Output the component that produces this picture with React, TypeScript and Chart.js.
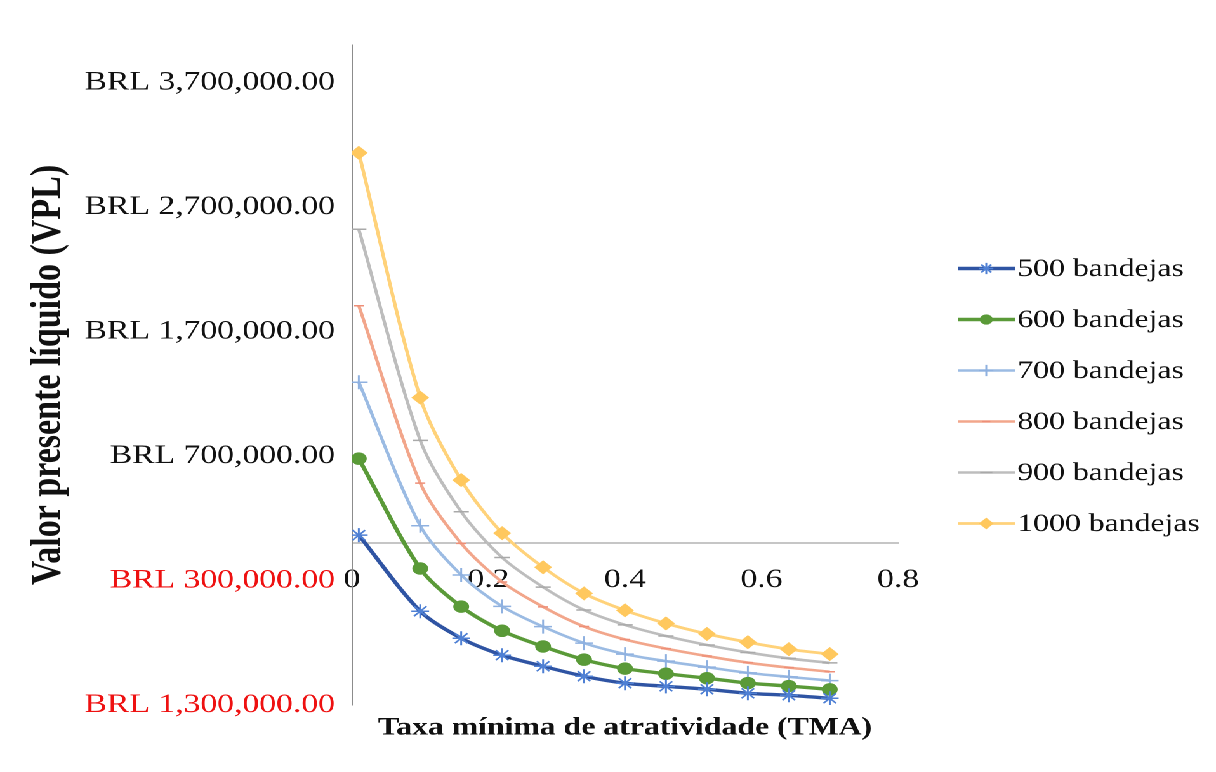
import React, { useEffect, useRef } from 'react';
import { Chart, registerables } from 'chart.js';
import { drawPoint } from 'chart.js/helpers';

Chart.register(...registerables);

// ---- data ----
const tmaValues = [0.01, 0.1, 0.16, 0.22, 0.28, 0.34, 0.4, 0.46, 0.52, 0.58, 0.64, 0.7];
const vpl500 = [64000, -547000, -764000, -900000, -989000, -1069000, -1125000, -1150000, -1174000, -1206000, -1222000, -1246000];
const vpl600 = [678000, -204000, -510000, -704000, -830000, -936000, -1008000, -1049000, -1085000, -1124000, -1148000, -1175000];
const vpl700 = [1292000, 139000, -256000, -508000, -671000, -803000, -891000, -948000, -996000, -1042000, -1074000, -1104000];
const vpl800 = [1906000, 482000, -2000, -312000, -512000, -670000, -774000, -847000, -907000, -960000, -1000000, -1033000];
const vpl900 = [2520000, 825000, 252000, -116000, -353000, -537000, -657000, -746000, -818000, -878000, -926000, -962000];
const vpl1000 = [3134000, 1168000, 506000, 80000, -194000, -404000, -540000, -645000, -729000, -796000, -852000, -891000];
const seriesLabels = ['500 bandejas', '600 bandejas', '700 bandejas', '800 bandejas', '900 bandejas', '1000 bandejas'];
const yTickValues = [-1300000, -300000, 700000, 1700000, 2700000, 3700000];
const xTickValues = [0, 0.2, 0.4, 0.6, 0.8];
const xTitle = 'Taxa mínima de atratividade (TMA)';
const yTitle = 'Valor presente líquido (VPL)';

// ---- styles ----
const SCALE_X = 1216 / 958;
const W = 958;
const H = 772;
const FONT = '"Liberation Serif", "Times New Roman", serif';
const lineColors = ['#2f54a3', '#5a9a38', '#9bbbe3', '#f2a68b', '#bdbdbd', '#ffd27a'];
const markerColors = ['#4f80d4', '#5a9a38', '#8fb1e0', '#ee8f78', '#a9a9a9', '#ffc85e'];
const markerStyles = ['star', 'circle', 'cross', 'line', 'line', 'rectRot'];
const markerRadii = [7, 5.5, 7, 4, 6, 6];
const lineWidths = [3.4, 3.4, 2.6, 2.6, 2.6, 2.8];

const allSeries = [vpl500, vpl600, vpl700, vpl800, vpl900, vpl1000];

const legendPlugin = {
  id: 'excelLegend',
  afterDraw(chart: any) {
    const { ctx, chartArea } = chart;
    const ds = chart.data.datasets;
    const x0 = chartArea.right + 47;
    const lineLen = 45;
    const spacing = 51;
    const cy = 396;
    ctx.save();
    ds.forEach((d: any, i: number) => {
      const y = cy + (i - (ds.length - 1) / 2) * spacing;
      ctx.strokeStyle = d.borderColor;
      ctx.lineWidth = d.borderWidth;
      ctx.beginPath();
      ctx.moveTo(x0, y);
      ctx.lineTo(x0 + lineLen, y);
      ctx.stroke();
      ctx.fillStyle = d.pointBackgroundColor;
      ctx.strokeStyle = d.pointBorderColor;
      ctx.lineWidth = d.pointBorderWidth;
      drawPoint(ctx, { pointStyle: d.pointStyle, rotation: 0, radius: d.pointRadius * 0.8, borderWidth: d.pointBorderWidth } as any, x0 + lineLen / 2, y);
      ctx.fillStyle = '#111';
      ctx.font = `25px ${FONT}`;
      ctx.textAlign = 'left';
      ctx.textBaseline = 'middle';
      ctx.fillText(d.label, x0 + lineLen + 2, y + 1);
    });
    ctx.restore();
  },
};

export default function App() {
  const ref = useRef<HTMLCanvasElement | null>(null);
  useEffect(() => {
    if (!ref.current) return;
    const datasets = allSeries.map((vals, i) => ({
      label: seriesLabels[i],
      data: vals.map((v, j) => ({ x: tmaValues[j], y: v })),
      showLine: true,
      borderColor: lineColors[i],
      backgroundColor: lineColors[i],
      borderWidth: lineWidths[i],
      tension: 0.3,
      pointStyle: markerStyles[i],
      pointRadius: markerRadii[i],
      pointBackgroundColor: markerColors[i],
      pointBorderColor: markerColors[i],
      pointBorderWidth: 1.5,
    }));
    const chart = new Chart(ref.current, {
      type: 'scatter',
      data: { datasets },
      plugins: [legendPlugin],
      options: {
        animation: false,
        responsive: false,
        devicePixelRatio: 2,
        layout: { padding: { top: 45, right: 250.5, left: 0, bottom: 0 } },
        font: { family: FONT },
        plugins: {
          legend: { display: false },
          tooltip: { enabled: false },
          title: {
            display: true,
            text: xTitle,
            position: 'bottom',
            fullSize: false,
            color: '#111',
            font: { family: FONT, size: 25, weight: 'bold' },
            padding: { top: 8, bottom: 29 },
          },
        },
        scales: {
          x: {
            type: 'linear',
            axis: 'x',
            position: { y: 0 } as any,
            min: 0,
            max: 0.8,
            afterBuildTicks: (scale: any) => {
              scale.ticks = xTickValues.map((value) => ({ value }));
            },
            grid: { display: false, drawTicks: false },
            border: { display: true, color: '#8c8c8c', width: 1 },
            ticks: {
              color: '#111',
              padding: 21,
              font: { family: FONT, size: 26.5 },
              callback: (v: any) => String(Math.round(Number(v) * 10) / 10),
            },
          },
          y: {
            type: 'linear',
            position: 'left',
            min: -1300000,
            max: 4000000,
            afterBuildTicks: (scale: any) => {
              scale.ticks = yTickValues.map((value) => ({ value }));
            },
            afterFit: (scale: any) => {
              scale.width = 277.3;
            },
            grid: { display: false, drawTicks: false },
            border: { display: true, color: '#8c8c8c', width: 1 },
            title: {
              display: true,
              text: yTitle,
              color: '#111',
              font: { family: FONT, size: 34, weight: 'bold' },
              padding: { top: 18, bottom: 0 },
            },
            ticks: {
              padding: 13.4,
              autoSkip: false,
              font: { family: FONT, size: 26.5 },
              color: (c: any) => (c.tick && c.tick.value < 0 ? '#ee1111' : '#111'),
              callback: (v: any) =>
                'BRL ' + Math.abs(Number(v)).toLocaleString('en-US', { minimumFractionDigits: 2, maximumFractionDigits: 2 }),
            },
          },
        },
      } as any,
    });
    return () => chart.destroy();
  }, []);

  return (
    <div
      style={{
        position: 'absolute',
        left: 0,
        top: 0,
        width: W,
        height: H,
        transform: `scaleX(${SCALE_X})`,
        transformOrigin: '0 0',
        background: '#fff',
      }}
    >
      <canvas ref={ref} width={W} height={H} style={{ width: W, height: H, display: 'block' }} />
    </div>
  );
}
